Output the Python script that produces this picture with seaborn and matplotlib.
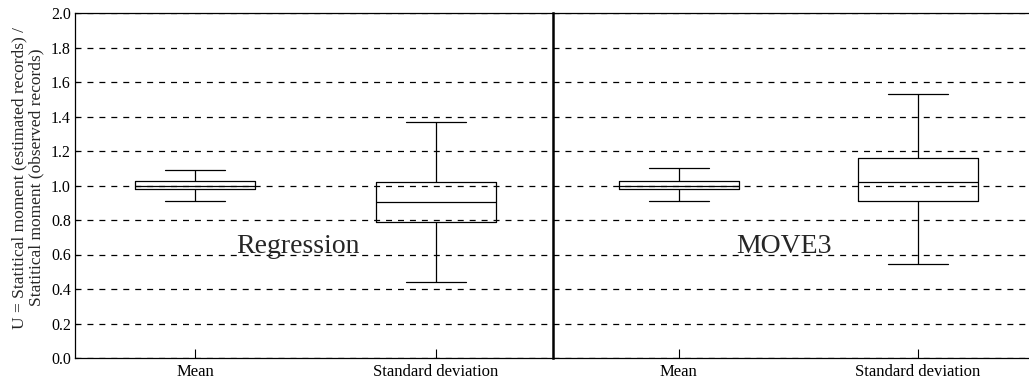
import numpy as np
import pandas as pd
import seaborn as sns
import matplotlib.pyplot as plt

# Statistical moments compared for each infilling method
statistics = ["Mean", "Standard deviation"]
methods = ["Regression", "MOVE3"]

# Five-number summaries: lower whisker, Q1, median, Q3, upper whisker
regression_mean = [0.91, 0.98, 1.00, 1.025, 1.09]
regression_std = [0.44, 0.79, 0.905, 1.02, 1.37]
move3_mean = [0.91, 0.98, 1.00, 1.025, 1.10]
move3_std = [0.545, 0.91, 1.02, 1.16, 1.53]

yticks = [0.0, 0.2, 0.4, 0.6, 0.8, 1.0, 1.2, 1.4, 1.6, 1.8, 2.0]
ylabel = "U = Statitical moment (estimated records) /\nStatitical moment (observed records)"


def summary_frame(mean_vals, std_vals):
    rows = [(statistics[0], v) for v in mean_vals] + [(statistics[1], v) for v in std_vals]
    return pd.DataFrame(rows, columns=["statistic", "U"])


frames = {
    "Regression": summary_frame(regression_mean, regression_std),
    "MOVE3": summary_frame(move3_mean, move3_std),
}

sns.set_theme(style="white")
plt.rcParams["font.family"] = ["Liberation Serif", "DejaVu Serif"]
plt.rcParams["lines.scale_dashes"] = False

W, H = 1029, 388
fig = plt.figure(figsize=(W / 100, H / 100), dpi=100)
ax_left = fig.add_axes([75 / W, 30 / H, 478 / W, 345 / H])
ax_right = fig.add_axes([553 / W, 30 / H, 480 / W, 345 / H])

panels = [
    (ax_left, "Regression", (-0.498, 1.485), 0.425),
    (ax_right, "MOVE3", (-0.525, 1.48), 0.44),
]

for ax, name, xlim, text_x in panels:
    sns.boxplot(
        data=frames[name], x="statistic", y="U", order=statistics,
        whis=(0, 100), width=0.5, fill=False, color="black",
        linewidth=0.9, showfliers=False, ax=ax,
    )
    ax.set_xlim(*xlim)
    ax.set_ylim(0, 2.0)
    ax.set_yticks(yticks)
    ax.set_yticklabels([f"{t:.1f}" for t in yticks])
    ax.grid(axis="y", color="black", linestyle=(0, (4.3, 4.3)), linewidth=0.9)
    ax.set_axisbelow(True)
    ax.set_xlabel("")
    ax.set_ylabel("")
    ax.tick_params(axis="x", direction="in", length=6.5, width=0.8,
                   labelsize=12, pad=4, colors="black", bottom=True)
    ax.tick_params(axis="y", direction="in", length=2.5, width=0.8,
                   labelsize=11.5, pad=3, colors="black", left=True)
    for side in ["top", "bottom", "left", "right"]:
        ax.spines[side].set_color("black")
        ax.spines[side].set_linewidth(0.9)
    ax.text(text_x, 0.61, name, fontsize=20, ha="center", va="baseline")

ax_left.spines["right"].set_visible(False)
ax_right.spines["right"].set_visible(False)
ax_right.spines["left"].set_linewidth(1.8)
ax_right.tick_params(axis="y", left=False, labelleft=False)

ax_left.set_ylabel(ylabel, fontsize=12.5, labelpad=5, linespacing=1.05)
ax_left.yaxis.label.set_y(0.523)

fig.savefig("out.png", dpi=100)
